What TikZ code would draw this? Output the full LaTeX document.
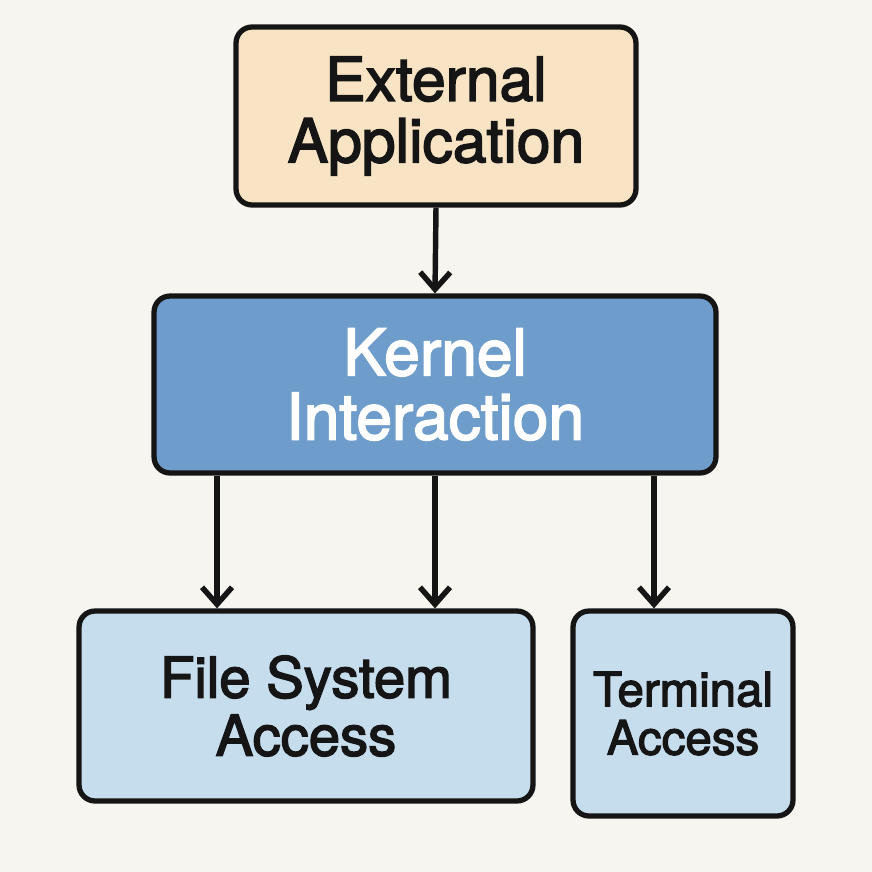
\documentclass[tikz,border=0pt]{standalone}
\usepackage{fontspec}
\setmainfont{TeX Gyre Heros}[FakeBold=2.6]
\usepackage{tikz}
\usetikzlibrary{arrows.meta}
\definecolor{bgcol}{HTML}{F7F5F0}
\definecolor{extcol}{HTML}{F8E4C4}
\definecolor{kerncol}{HTML}{6F9DCB}
\definecolor{leafcol}{HTML}{C6DDEE}
\definecolor{inkcol}{HTML}{151515}
\tikzset{box/.style={draw=inkcol, line width=3pt, rounded corners=0.32cm, inner sep=0pt, align=center, text=inkcol},
  arr/.style={draw=inkcol, line width=3.1pt, -{Straight Barb[length=0.34cm, width=0.6cm]}}}

\begin{document}
\begin{tikzpicture}[x=0.02cm, y=-0.02cm]
    \fill [bgcol] (0,0) rectangle (872,872);
    \useasboundingbox (0,0) rectangle (872,872);

    \node [box, fill=extcol, minimum width=8.0cm, minimum height=3.56cm,
      font=\fontsize{34.5}{35}\selectfont] (ext) at (436,116) {External\\Application};
    \node [box, fill=kerncol, text=white, minimum width=11.24cm, minimum height=3.54cm,
      font=\fontsize{36.5}{36.5}\selectfont] (kern) at (435,384.5) {Kernel\\Interaction};
    \node [box, fill=leafcol, minimum width=9.08cm, minimum height=3.8cm,
      font=\fontsize{32}{33}\selectfont] (fs) at (306,706) {File System\\Access};
    \node [box, fill=leafcol, minimum width=4.4cm, minimum height=4.1cm,
      font=\fontsize{27}{27.5}\selectfont] (term) at (683,713.5) {Terminal\\Access};

    \draw [arr] (ext.south) -- (kern.north);
    \foreach \dx in {-4.36,0} {
      \draw [arr] ([xshift=\dx cm]kern.south) -- ([xshift=\dx cm]kern.south |- fs.north);
    }
    \draw [arr] ([xshift=4.38cm]kern.south) -- ([xshift=4.38cm]kern.south |- term.north);
\end{tikzpicture}
\end{document}
